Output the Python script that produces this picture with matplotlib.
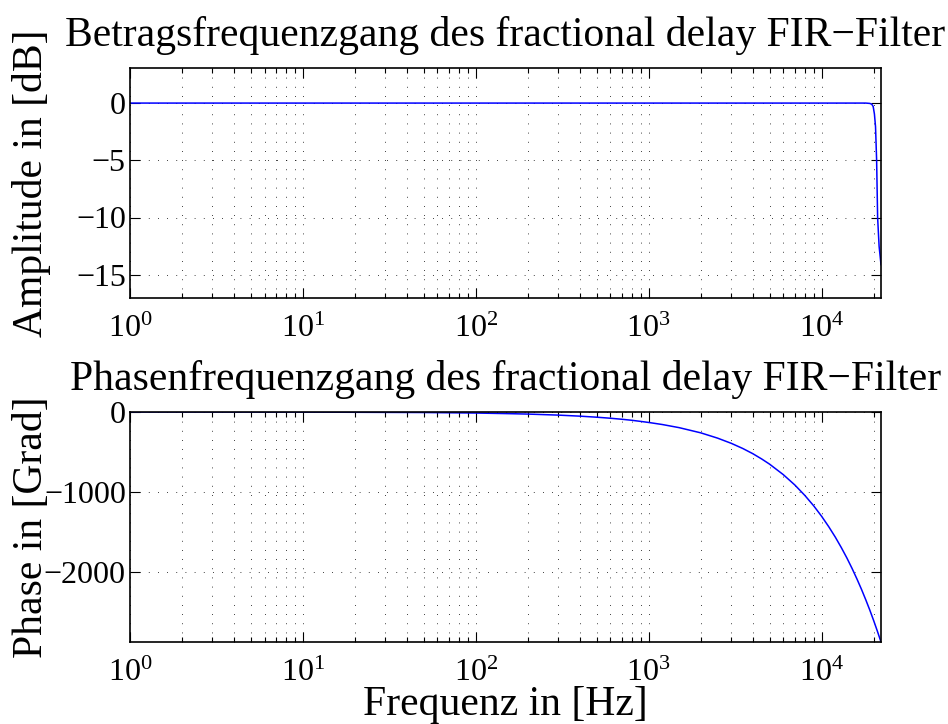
# Betrags- und Phasenfrequenzgang eines fractional delay FIR-Filters (MATLAB-Stil)

import math
import matplotlib
matplotlib.use("Agg")
import matplotlib.pyplot as plt
from matplotlib.ticker import LogLocator, FixedLocator, NullFormatter, FuncFormatter

plt.rcParams["font.family"] = ["Liberation Serif", "DejaVu Serif"]
plt.rcParams["mathtext.fontset"] = "custom"
plt.rcParams["mathtext.rm"] = "Liberation Serif"
plt.rcParams["mathtext.it"] = "Liberation Serif"

# Werte
freq_amp = [1, 10, 100, 1000, 10000, 18000, 19000, 19500, 19870, 20200, 20500, 20800, 21080, 21500, 22050]
amp_db = [-0.05, -0.05, -0.05, -0.05, -0.05, -0.05, -0.08, -0.15, -0.35, -1.0, -2.1, -5.0, -10.0, -12.5, -14.1]

freq_phase = [1, 10, 50, 100, 150, 200, 300, 400, 500, 600, 700, 800, 900, 1000, 1200, 1500,
              2000, 2500, 3000, 3500, 4000, 4500, 5000, 6000, 7000, 8000, 9000,
              10000, 11000, 12000, 13000, 14000, 15000, 16000, 17000, 18000, 19000, 20000, 21000, 22050]
phase_deg = [-0.13, -1.3, -6.5, -13, -20, -26, -39, -52, -65, -78, -91, -104, -118, -131, -157, -196,
             -261, -327, -392, -457, -522, -588, -653, -784, -914, -1045, -1175,
             -1306, -1437, -1567, -1698, -1828, -1959, -2090, -2220, -2351, -2481, -2612, -2743, -2880]

x_ticks = [1, 10, 100, 1000, 10000]
amp_ticks = [-15, -10, -5, 0]
phase_ticks = [-2000, -1000, 0]

tick_fs = 23
label_fs = 30
title_fs = 30
grid_style = dict(color="black", linestyle=(0, (1, 10)), linewidth=0.6)

fig = plt.figure(figsize=(9.48, 7.24), dpi=100)
ax1 = fig.add_axes([130 / 948, 1 - 298 / 724, 751 / 948, 230 / 724])
ax2 = fig.add_axes([130 / 948, 1 - 642 / 724, 751 / 948, 230 / 724])


def setup(ax, yticks, ylim):
    ax.set_xscale("log")
    ax.set_xlim(1, 22050)
    ax.set_ylim(*ylim)
    ax.xaxis.set_major_locator(FixedLocator(x_ticks))
    ax.xaxis.set_major_formatter(FuncFormatter(lambda v, p: r"$10^{%d}$" % round(math.log10(v))))
    ax.xaxis.set_minor_locator(LogLocator(base=10, subs=range(2, 10), numticks=20))
    ax.xaxis.set_minor_formatter(NullFormatter())
    ax.set_yticks(yticks)
    ax.tick_params(which="both", direction="in", top=True, right=True, labelsize=tick_fs, width=0.8)
    ax.tick_params(which="major", length=7)
    ax.tick_params(which="minor", length=3.5)
    ax.tick_params(axis="x", pad=12)
    ax.tick_params(axis="y", pad=3)
    ax.grid(True, which="major", **grid_style)
    ax.grid(True, which="minor", axis="x", **grid_style)
    for s in ax.spines.values():
        s.set_linewidth(1.2)


setup(ax1, amp_ticks, (-17, 3))
ax1.plot(freq_amp, amp_db, color="blue", linewidth=1.1)
ax1.set_title("Betragsfrequenzgang des fractional delay FIR\u2212Filter", fontsize=title_fs, pad=16)
ax1.set_ylabel("Amplitude in [dB]", fontsize=label_fs)
ax1.yaxis.set_label_coords(-0.105, 0.5)

setup(ax2, phase_ticks, (-2880, 0))
ax2.plot(freq_phase, phase_deg, color="blue", linewidth=1.1)
ax2.set_title("Phasenfrequenzgang des fractional delay FIR\u2212Filter", fontsize=title_fs, pad=16)
ax2.set_ylabel("Phase in [Grad]", fontsize=label_fs)
ax2.yaxis.set_label_coords(-0.105, 0.5)
ax2.set_xlabel("Frequenz in [Hz]", fontsize=label_fs)
ax2.xaxis.set_label_coords(0.5, -0.19)

fig.savefig("out.png", dpi=100)
